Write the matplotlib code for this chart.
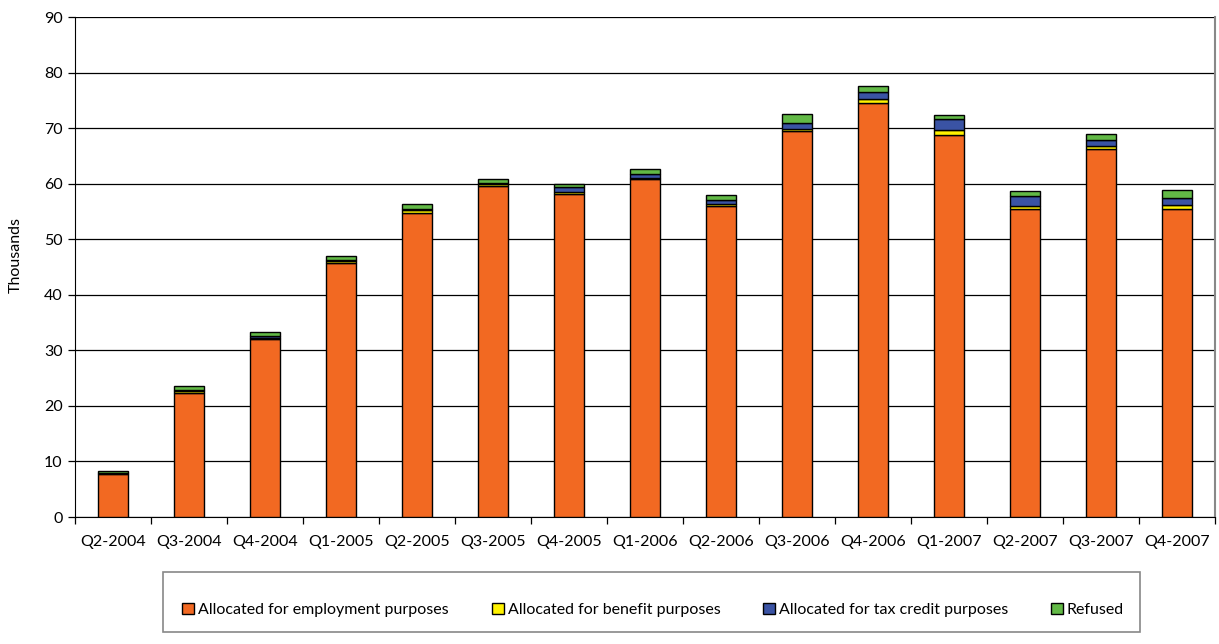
import numpy as np
import matplotlib
matplotlib.use("Agg")
import matplotlib.pyplot as plt
from matplotlib.patches import Rectangle

plt.rcParams['font.family'] = ['Lato', 'DejaVu Sans']

quarters = ["Q2-2004", "Q3-2004", "Q4-2004", "Q1-2005", "Q2-2005", "Q3-2005",
            "Q4-2005", "Q1-2006", "Q2-2006", "Q3-2006", "Q4-2006", "Q1-2007",
            "Q2-2007", "Q3-2007", "Q4-2007"]

employment = [7.8, 22.4, 32.1, 45.7, 54.7, 59.6, 58.1, 60.8, 55.9, 69.5, 74.6, 68.8, 55.5, 66.3, 55.5]
benefit    = [0.1, 0.2, 0.2, 0.3, 0.5, 0.4, 0.4, 0.3, 0.5, 0.4, 0.6, 0.8, 0.5, 0.5, 0.6]
tax_credit = [0.1, 0.2, 0.3, 0.3, 0.3, 0.2, 0.9, 0.7, 0.6, 1.0, 1.3, 2.1, 1.8, 1.1, 1.4]
refused    = [0.2, 0.7, 0.7, 0.7, 0.8, 0.7, 0.5, 0.8, 0.9, 1.6, 1.1, 0.7, 0.8, 1.1, 1.3]

series = [
    ("Allocated for employment purposes", employment, "#F26922"),
    ("Allocated for benefit purposes", benefit, "#FFF200"),
    ("Allocated for tax credit purposes", tax_credit, "#3A53A4"),
    ("Refused", refused, "#62B946"),
]

FS = 11.5
W, H = 1219.0, 644.0

fig = plt.figure(figsize=(12.19, 6.44), dpi=100)
ax = fig.add_axes([0.0615, 0.1972, 0.9352, 0.7764])

x = np.arange(len(quarters))
bottom = np.zeros(len(quarters))
handles = []
for name, vals, color in series:
    vals = np.array(vals)
    bars = ax.bar(x, vals, width=0.4, bottom=bottom, color=color, edgecolor="black",
                  linewidth=1.0, label=name, zorder=3)
    handles.append(bars)
    bottom += vals

ax.set_xlim(-0.5, len(quarters) - 0.5)
ax.set_ylim(0, 90)
ax.set_yticks(np.arange(0, 91, 10))
ax.yaxis.grid(True, color="black", linewidth=0.9, zorder=0)
ax.set_axisbelow(True)

ax.set_xticks(x)
ax.set_xticklabels(quarters, fontsize=FS)
ax.set_xticks(np.arange(-0.5, len(quarters), 1.0), minor=True)
ax.tick_params(axis="x", which="major", length=0, pad=13)
ax.tick_params(axis="x", which="minor", length=5, width=0.9, color="black")
ax.tick_params(axis="y", length=5, width=0.9, labelsize=FS, pad=4)

ax.spines["top"].set_visible(False)
ax.spines["right"].set_color("#888888")
ax.spines["right"].set_linewidth(1.5)
ax.spines["left"].set_color("black")
ax.spines["bottom"].set_color("black")

# vertical axis title
fig.text(16 / W, 1 - 255 / H, "Thousands", rotation=90, ha="center", va="center",
         fontsize=FS)

# legend panel below the chart
fig.patches.append(Rectangle((163 / W, 1 - 632 / H), (1140 - 163) / W, (632 - 572) / H,
                             transform=fig.transFigure, fill=False,
                             edgecolor="#888888", linewidth=1.2))
legend_x = [182, 492, 763, 1051]
for h, (name, _, _), lx in zip(handles, series, legend_x):
    fig.legend([h], [name], loc="center left",
               bbox_to_anchor=(lx / W, 1 - 610 / H), frameon=False,
               fontsize=FS, handlelength=0.75, handleheight=0.75,
               handletextpad=0.25, borderpad=0, borderaxespad=0)

fig.savefig("out.png", dpi=100)
